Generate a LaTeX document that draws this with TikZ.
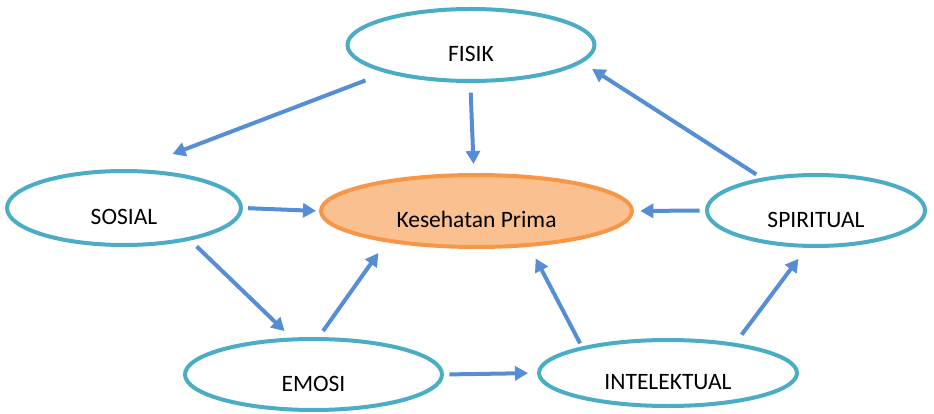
\documentclass[tikz,border=0pt]{standalone}
\usepackage{fontspec}
\setmainfont{Carlito}
\usepackage{tikz}
\usetikzlibrary{arrows.meta,shapes.geometric}
\usepackage{xcolor}
\definecolor{ringteal}{RGB}{75,172,198}
\definecolor{arrblue}{RGB}{85,142,213}
\definecolor{primaline}{RGB}{247,150,70}
\definecolor{primafill}{RGB}{250,192,144}

\begin{document}
\begin{tikzpicture}[x=1pt,y=-1pt,
    bub/.style={ellipse,draw=ringteal,fill=white,line width=4pt,inner sep=0pt,
      text height=33pt,text depth=0pt,font=\fontsize{23.5}{28}\selectfont},
    arr/.style={draw=arrblue,line width=4pt,-{Triangle[length=13pt,width=14pt]}}]
    \useasboundingbox (0,0) rectangle (934,414);
    \node(fs)[bub,minimum width=247pt,minimum height=72pt] at (471,45)    {FISIK};
    \node(kp)[bub,draw=primaline,fill=primafill,minimum width=311pt,minimum height=72pt] at (476.5,211) {Kesehatan Prima};
    \node(ss)[bub,minimum width=234pt,minimum height=74pt] at (124,208)   {SOSIAL};
    \node(sp)[bub,minimum width=218pt,minimum height=71pt] at (816,210.5) {SPIRITUAL};
    \node(em)[bub,minimum width=257pt,minimum height=71pt] at (313.5,374.5) {EMOSI};
    \node(in)[bub,minimum width=258pt,minimum height=66pt] at (668,373)   {INTELEKTUAL};
    \draw [arr,shorten <=21.4pt,shorten >=42.3pt] (fs.198.8)--(ss.77.5);
    \draw [arr,shorten <=9.7pt,shorten >=9pt] (fs.269.5)--(kp.94.6);
    \draw [arr,shorten <=6.3pt,shorten >=11.8pt] (sp.149.3)--(fs.351.2);
    \draw [arr,shorten <=5pt,shorten >=3pt] (ss.0)--(kp.180);
    \draw [arr,shorten <=5.3pt,shorten >=6.3pt] (sp.180)--(kp.0);
    \draw [arr,shorten <=8.8pt,shorten >=9.3pt] (ss.334.5)--(em.121.9);
    \draw [arr,shorten <=7.4pt,shorten >=13.4pt] (em.82.3)--(kp.199);
    \draw [arr,shorten <=5.3pt,shorten >=9pt] (em.0)--(in.180);
    \draw [arr,shorten <=3.7pt,shorten >=13.2pt] (in.163.9)--(kp.326);
    \draw [arr,shorten <=10.4pt,shorten >=13.7pt] (in.24.6)--(sp.256.8);
\end{tikzpicture}
\end{document}
